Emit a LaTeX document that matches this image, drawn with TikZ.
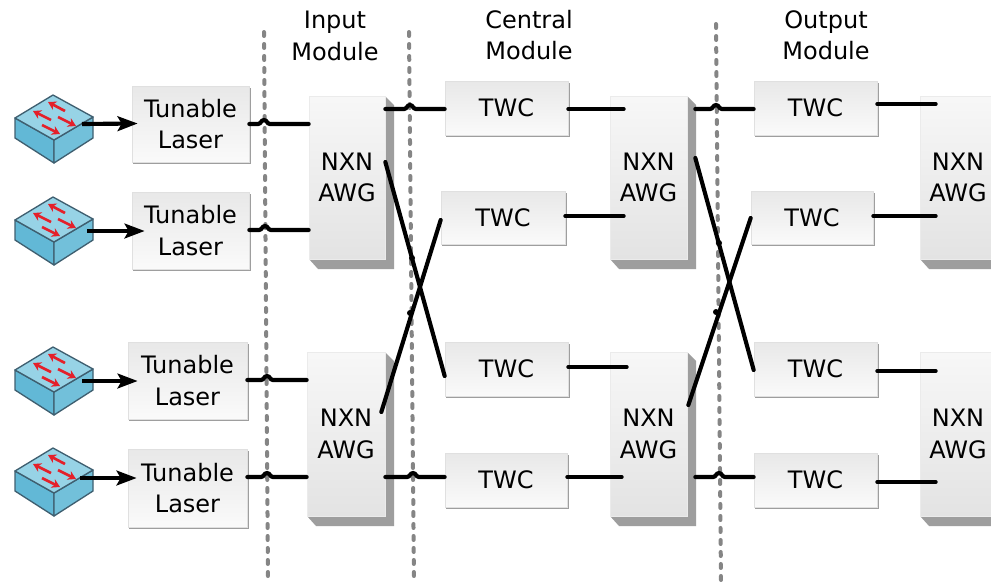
\documentclass[tikz,border=0pt]{standalone}
\usepackage{fontspec}
\setmainfont{DejaVu Sans}
\usetikzlibrary{arrows.meta}
\definecolor{swtop}{HTML}{97D3E6}
\definecolor{swleft}{HTML}{62B8D6}
\definecolor{swright}{HTML}{72C0DA}
\definecolor{swline}{HTML}{3F5F70}
\definecolor{swred}{HTML}{E4202A}
\tikzset{
  x=0.75pt,y=-0.75pt,
  lbl/.style={align=center,font=\fontsize{18}{23.5}\selectfont,text=black,inner sep=0pt},
  lightbox/.style={lbl,shape=rectangle,draw=black!12,line width=0.5pt,top color=black!9,bottom color=black!2},
  awgface/.style={lbl,shape=rectangle,draw=black!8,line width=0.5pt,top color=black!3,bottom color=black!11},
  wire/.style={line width=3.1pt,black,line cap=round},
  arr/.style={line width=3.1pt,black,-{Stealth[length=15pt,width=11pt,inset=3pt]}},
  sep/.style={line width=3pt,black!48,line cap=round,dash pattern=on 3pt off 6pt},
  shadowgrey/.style={fill=black!38},
  thinshadow/.style={fill=black!38},
  swedge/.style={draw=swline,line width=1pt,line join=round},
  swarrow/.style={draw=swred,line width=2pt,-{Stealth[length=6pt,width=7pt]}}
}
% thin-edged box
\newcommand{\thinbox}[6]{%
  \fill[thinshadow] (#2+1,#3+2) rectangle (#4+2,#5+2);
  \node[lightbox,minimum width={(#4-#2)*0.75pt},minimum height={(#5-#3)*0.75pt}] (#1) at ({(#2+#4)/2},{(#3+#5)/2}) {#6};}
% AWG box with depth
\newcommand{\awgbox}[6]{%
  \fill[shadowgrey] (#2,#3) -- (#4,#3) -- (#4+9,#3+9) -- (#4+9,#5+10) -- (#2+9,#5+10) -- (#2,#5) -- cycle;
  \node[awgface,minimum width={(#4-#2)*0.75pt},minimum height={(#5-#3)*0.75pt}] (#1) at ({(#2+#4)/2},{(#3+#5)/2}) {#6};}
% switch icon: name, y of centre
\newcommand{\switchicon}[2]{%
  \node[inner sep=0pt,minimum width=59pt,minimum height=51pt] (#1) at (54,#2) {};
  \begin{scope}[shift={(0,#2-129)}]
    \filldraw[swedge,fill=swleft] (15,118) -- (54,140) -- (54,163) -- (15,138) -- cycle;
    \filldraw[swedge,fill=swright] (93,117) -- (54,140) -- (54,163) -- (93,138) -- cycle;
    \filldraw[swedge,fill=swtop] (15,118) -- (53,95) -- (93,117) -- (54,140) -- cycle;
    \draw[swarrow] (65,111) -- (48,102);
    \draw[swarrow] (51,120) -- (33,111);
    \draw[swarrow] (58,117) -- (76,126);
    \draw[swarrow] (42,125) -- (60,134);
  \end{scope}}
% horizontal wire at height y from anchor to anchor with a hop at hx
\newcommand{\hopwire}[4]{%
  \draw[wire] (#1 |- 0,#3) -- (#4-6,#3) .. controls (#4-3,#3) and (#4-3,#3-4) .. (#4,#3-4) .. controls (#4+3,#3-4) and (#4+3,#3) .. (#4+6,#3) -- (#2 |- 0,#3);}
\newcommand{\plainwire}[3]{\draw[wire] (#1 |- 0,#3) -- (#2 |- 0,#3);}
\begin{document}
\begin{tikzpicture}
\clip (0,0) rectangle (991,583);
\fill[white] (0,0) rectangle (991,583);
% separators
\coordinate (s1a) at (264,32); \coordinate (s1b) at (268,583);
\coordinate (s2a) at (409,32); \coordinate (s2b) at (414,583);
\coordinate (s3a) at (716,24); \coordinate (s3b) at (721,583);
\draw[sep] (s1a) -- (s1b);
\draw[sep] (s2a) -- (s2b);
\draw[sep] (s3a) -- (s3b);
% titles
\node[lbl] (tin) at (335,36) {Input\\Module};
\node[lbl] (tce) at (529,35) {Central\\Module};
\node[lbl] (tou) at (826,35) {Output\\Module};
% switches
\switchicon{sw1}{129}
\switchicon{sw2}{231}
\switchicon{sw3}{381}
\switchicon{sw4}{482}
% lasers
\thinbox{l1}{132}{86}{249}{162}{Tunable\\Laser}
\thinbox{l2}{132}{192}{249}{269}{Tunable\\Laser}
\thinbox{l3}{128}{342}{247}{419}{Tunable\\Laser}
\thinbox{l4}{128}{449}{247}{527}{Tunable\\Laser}
% AWGs
\awgbox{a1}{309}{96}{385}{259}{NXN\\AWG}
\awgbox{a2}{307}{352}{385}{516}{NXN\\AWG}
\awgbox{a3}{610}{96}{687}{259}{NXN\\AWG}
\awgbox{a4}{610}{352}{687}{516}{NXN\\AWG}
\awgbox{a5}{920}{96}{996}{259}{NXN\\AWG}
\awgbox{a6}{920}{352}{996}{516}{NXN\\AWG}
% TWCs
\thinbox{c1}{445}{81}{568}{135}{TWC}
\thinbox{c2}{441}{191}{565}{244}{TWC}
\thinbox{c3}{445}{342}{568}{396}{TWC}
\thinbox{c4}{445}{453}{567}{507}{TWC}
\thinbox{o1}{754}{81}{877}{135}{TWC}
\thinbox{o2}{751}{191}{873}{244}{TWC}
\thinbox{o3}{754}{342}{877}{396}{TWC}
\thinbox{o4}{754}{453}{877}{507}{TWC}
% wire ends inside / beyond AWG faces
\coordinate (a3in) at ([shift={(14,0)}]a3.west);
\coordinate (a4ina) at ([shift={(17,0)}]a4.west);
\coordinate (a4inb) at ([shift={(12,0)}]a4.west);
\coordinate (a5in) at ([shift={(16,0)}]a5.west);
\coordinate (a6in) at ([shift={(16,0)}]a6.west);
\coordinate (a3out) at ([shift={(8,0)}]a3.east);
\coordinate (a4out) at ([shift={(8,0)}]a4.east);
\coordinate (a2diag) at ([shift={(-4,0)}]a2.east);
\coordinate (a4diag) at ([shift={(1,0)}]a4.east);
% switch to laser
\draw[arr] ([shift={(28,-5)}]sw1.center) -- ([shift={(6,-0.5)}]l1.west);
\draw[arr] ([shift={(33,0)}]sw2.center) -- ([shift={(13,0.5)}]l2.west);
\draw[arr] ([shift={(28,0)}]sw3.center) -- ([shift={(10,0.5)}]l3.west);
\draw[arr] ([shift={(26,-4)}]sw4.center) -- ([shift={(9,-10)}]l4.west);
% laser to AWG
\hopwire{l1.east}{a1.west}{124}{264}
\hopwire{l2.east}{a1.west}{230}{265}
\hopwire{l3.east}{a2.west}{380}{267}
\hopwire{l4.east}{a2.west}{477}{267}
% input to central
\hopwire{a1.east}{c1.west}{109}{410}
\hopwire{a2.east}{c4.west}{477}{413}
\draw[wire] (a1.east |- 0,162) -- (c3.west |- 0,376);
\draw[wire] (a2diag |- 0,412) -- (c2.west |- 0,220);
\fill (412,258) circle (3);
\fill (410,313) circle (3);
% central to AWG
\plainwire{c1.east}{a3in}{109}
\plainwire{c2.east}{a3in}{216}
\plainwire{c3.east}{a4ina}{367}
\plainwire{c4.east}{a4inb}{477}
% AWG to output
\hopwire{a3out}{o1.west}{109}{716}
\hopwire{a4out}{o4.west}{477}{719}
\draw[wire] (a3out |- 0,158) -- (o3.west |- 0,370);
\draw[wire] (a4diag |- 0,405) -- (o2.west |- 0,218);
\fill (719,243) circle (3);
\fill (716,312) circle (3);
% output to AWG
\plainwire{o1.east}{a5in}{104}
\plainwire{o2.east}{a5in}{216}
\plainwire{o3.east}{a6in}{371}
\plainwire{o4.east}{a6in}{482}
\end{tikzpicture}
\end{document}
